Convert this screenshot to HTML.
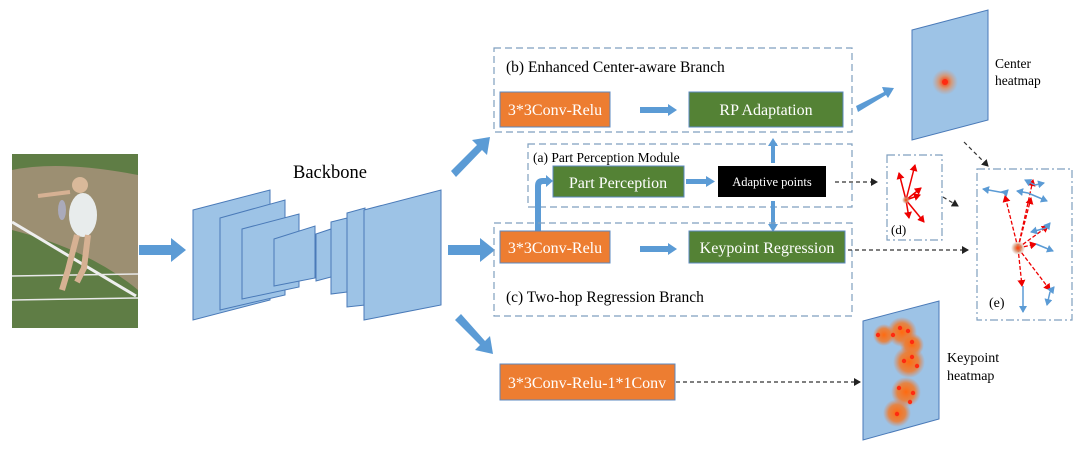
<!DOCTYPE html>
<html><head><meta charset="utf-8"><style>
html,body{margin:0;padding:0;background:#fff;}
svg{display:block;}
text{font-family:"Liberation Serif",serif;}
</style></head><body>
<svg width="1080" height="454" viewBox="0 0 1080 454" xmlns="http://www.w3.org/2000/svg">
<defs>
<marker id="bh" markerWidth="8" markerHeight="8" refX="6" refY="4" orient="auto" markerUnits="userSpaceOnUse"><path d="M0,0 L7,4 L0,8 z" fill="#222"/></marker>
<marker id="rh" markerWidth="8" markerHeight="8" refX="6" refY="4" orient="auto" markerUnits="userSpaceOnUse"><path d="M0,0 L7,4 L0,8 z" fill="#e00"/></marker>
<marker id="lh" markerWidth="8" markerHeight="8" refX="6" refY="4" orient="auto" markerUnits="userSpaceOnUse"><path d="M0,0 L7,4 L0,8 z" fill="#5b9bd5"/></marker>
<radialGradient id="glow"><stop offset="0" stop-color="#ff3a10"/><stop offset="0.2" stop-color="#f05a2a"/><stop offset="0.5" stop-color="#d9956f" stop-opacity="0.9"/><stop offset="1" stop-color="#c8a090" stop-opacity="0"/></radialGradient>
<radialGradient id="glow2"><stop offset="0" stop-color="#ff6a10"/><stop offset="0.6" stop-color="#f07a2a" stop-opacity="0.85"/><stop offset="1" stop-color="#e08050" stop-opacity="0"/></radialGradient>
</defs>

<!-- photo -->
<rect x="12" y="154" width="126" height="174" fill="#5f7d45"/>
<path d="M12,170 Q60,160 138,175 L138,290 Q90,250 12,230 Z" fill="#9c8f72"/>
<path d="M12,222 L136,296" stroke="#eee" stroke-width="3"/>
<path d="M12,276 L138,274 M12,300 L138,298" stroke="#e8e8e8" stroke-width="1.5"/>
<ellipse cx="83" cy="215" rx="14" ry="22" fill="#e8ecec"/>
<circle cx="80" cy="185" r="8" fill="#d9b99a"/>
<path d="M77,235 L68,270 L62,290 M88,235 L84,268 L77,282" stroke="#d6b193" stroke-width="6" fill="none"/>
<path d="M70,192 L38,196" stroke="#d6b193" stroke-width="4"/>
<ellipse cx="62" cy="210" rx="4" ry="10" fill="#aab" />

<!-- arrow photo->backbone -->
<path d="M139,245 L171,245 L171,238 L186,250 L171,262 L171,255 L139,255 Z" fill="#5b9bd5"/>

<!-- backbone -->
<g fill="#9dc3e6" stroke="#4a7ab8" stroke-width="1">
<polygon points="193,210 270,190 270,300 193,320"/>
<polygon points="220,218 285,200 285,295 220,310"/>
<polygon points="242,229 299,214 299,287 242,299"/>
<polygon points="274,239 315,226 315,278 274,286"/>
<polygon points="316,234 331,229 331,277 316,281"/>
<polygon points="331,222 347,218 347,292 331,294"/>
<polygon points="347,213 365,208 365,305 347,307"/>
<polygon points="364,210 441,190 441,305 364,320"/>
</g>
<text x="293" y="178" font-size="18.5">Backbone</text>

<!-- outputs of backbone -->
<g fill="#5b9bd5">
<path d="M451,171 L477,145 L472,140 L490,137 L487,155 L482,150 L456,177 Z"/>
<path d="M448,245 L480,245 L480,238 L495,250 L480,262 L480,255 L448,255 Z"/>
<path d="M455,320 L480,345 L475,350 L493,354 L490,336 L485,341 L461,314 Z"/>
</g>

<!-- (b) -->
<rect x="494" y="48" width="358" height="84" fill="none" stroke="#7f9fbf" stroke-width="1.2" stroke-dasharray="7,4"/>
<text x="506" y="72" font-size="15.5">(b) Enhanced Center-aware Branch</text>
<rect x="500" y="92" width="110" height="35" fill="#ed7d31" stroke="#5b88c0"/>
<text x="555" y="115" font-size="16" fill="#fff" text-anchor="middle">3*3Conv-Relu</text>
<rect x="689" y="92" width="154" height="35" fill="#548235" stroke="#5b88c0"/>
<text x="766" y="115" font-size="16" fill="#fff" text-anchor="middle">RP Adaptation</text>
<path d="M640,107 L668,107 L668,104 L677,110 L668,116 L668,113 L640,113 Z" fill="#5b9bd5"/>

<!-- (a) -->
<rect x="528" y="144" width="324" height="63" fill="none" stroke="#7f9fbf" stroke-width="1.2" stroke-dasharray="7,4"/>
<text x="533" y="162" font-size="13.5">(a) Part Perception Module</text>
<rect x="553" y="166" width="131" height="31" fill="#548235" stroke="#5b88c0"/>
<text x="618" y="188" font-size="16" fill="#fff" text-anchor="middle">Part Perception</text>
<rect x="718" y="166" width="108" height="31" fill="#000"/>
<text x="772" y="186" font-size="12.5" fill="#fff" text-anchor="middle">Adaptive points</text>
<path d="M686,179 L706,179 L706,176 L715,181.5 L706,187 L706,184 L686,184 Z" fill="#5b9bd5"/>
<path d="M771,163 L771,146 L768,146 L773,138 L778,146 L775,146 L775,163 Z" fill="#5b9bd5"/>
<path d="M771,201 L771,224 L768,224 L773,232 L778,224 L775,224 L775,201 Z" fill="#5b9bd5"/>
<path d="M535,231 L535,186 Q535,178 543,178 L546,178 L546,175 L553,181 L546,187 L546,184 L543,184 Q541,184 541,186 L541,231 Z" fill="#5b9bd5"/>

<!-- (c) -->
<rect x="494" y="223" width="358" height="93" fill="none" stroke="#7f9fbf" stroke-width="1.2" stroke-dasharray="7,4"/>
<rect x="500" y="231" width="110" height="32" fill="#ed7d31" stroke="#5b88c0"/>
<text x="555" y="253" font-size="16" fill="#fff" text-anchor="middle">3*3Conv-Relu</text>
<rect x="689" y="231" width="156" height="32" fill="#548235" stroke="#5b88c0"/>
<text x="767" y="253" font-size="16" fill="#fff" text-anchor="middle">Keypoint Regression</text>
<path d="M640,246 L668,246 L668,243 L677,249 L668,255 L668,252 L640,252 Z" fill="#5b9bd5"/>
<text x="506" y="302" font-size="15.5">(c) Two-hop Regression Branch</text>

<!-- bottom branch -->
<rect x="500" y="364" width="175" height="36" fill="#ed7d31" stroke="#5b88c0"/>
<text x="587" y="388" font-size="16" fill="#fff" text-anchor="middle">3*3Conv-Relu-1*1Conv</text>
<line x1="676" y1="382" x2="860" y2="382" stroke="#333" stroke-width="1.2" stroke-dasharray="4,3" marker-end="url(#bh)"/>

<!-- center heatmap -->
<path d="M856,106 L884,92 L882,87 L894,88 L888,98 L886,95 L858,112 Z" fill="#5b9bd5"/>
<polygon points="912,30 988,10 988,120 912,140" fill="#9dc3e6" stroke="#4a7ab8"/>
<circle cx="945" cy="82" r="13" fill="url(#glow)"/>
<circle cx="945" cy="82" r="3" fill="#ff2a10"/>
<text x="995" y="68" font-size="13.5">Center</text>
<text x="995" y="85" font-size="13.5">heatmap</text>

<!-- keypoint heatmap -->
<polygon points="863,321 939,301 939,419 863,440" fill="#9dc3e6" stroke="#4a7ab8"/>
<g>
<circle cx="902" cy="332" r="15" fill="url(#glow2)"/>
<circle cx="884" cy="335" r="11" fill="url(#glow2)"/>
<circle cx="912" cy="345" r="12" fill="url(#glow2)"/>
<circle cx="909" cy="362" r="16" fill="url(#glow2)"/>
<circle cx="906" cy="392" r="15" fill="url(#glow2)"/>
<circle cx="897" cy="413" r="14" fill="url(#glow2)"/>
</g>
<g fill="#ff2a10">
<circle cx="878" cy="335" r="2.2"/><circle cx="893" cy="335" r="2.2"/><circle cx="900" cy="328" r="2.2"/><circle cx="908" cy="331" r="2.2"/><circle cx="912" cy="342" r="2.2"/>
<circle cx="904" cy="361" r="2.2"/><circle cx="912" cy="357" r="2.2"/><circle cx="917" cy="366" r="2.2"/>
<circle cx="899" cy="388" r="2.2"/><circle cx="913" cy="393" r="2.2"/><circle cx="910" cy="402" r="2.2"/><circle cx="897" cy="414" r="2.2"/>
</g>
<text x="947" y="362" font-size="14">Keypoint</text>
<text x="947" y="380" font-size="14">heatmap</text>

<!-- (d) -->
<line x1="835" y1="182" x2="877" y2="182" stroke="#333" stroke-width="1.2" stroke-dasharray="4,3" marker-end="url(#bh)"/>
<rect x="887" y="155" width="55" height="85" fill="none" stroke="#7f9fbf" stroke-width="1.2" stroke-dasharray="8,3,2,3"/>
<g stroke="#e00" stroke-width="1.5" marker-end="url(#rh)">
<line x1="906" y1="200" x2="899" y2="173"/>
<line x1="906" y1="200" x2="915" y2="165"/>
<line x1="906" y1="200" x2="921" y2="188"/>
<line x1="906" y1="200" x2="920" y2="195"/>
<line x1="906" y1="200" x2="909" y2="218"/>
<line x1="906" y1="200" x2="924" y2="222"/>
</g>
<circle cx="906" cy="200" r="4" fill="url(#glow)"/>
<text x="891" y="234" font-size="13">(d)</text>
<line x1="943" y1="197" x2="958" y2="206" stroke="#333" stroke-width="1.2" stroke-dasharray="4,3" marker-end="url(#bh)"/>
<line x1="964" y1="142" x2="988" y2="166" stroke="#333" stroke-width="1.2" stroke-dasharray="4,3" marker-end="url(#bh)"/>
<line x1="848" y1="250" x2="968" y2="250" stroke="#333" stroke-width="1.2" stroke-dasharray="4,3" marker-end="url(#bh)"/>

<!-- (e) -->
<rect x="977" y="169" width="95" height="151" fill="none" stroke="#7f9fbf" stroke-width="1.2" stroke-dasharray="8,3,2,3"/>
<g stroke="#e00" stroke-width="1.3" stroke-dasharray="4,2" marker-end="url(#rh)">
<line x1="1018" y1="248" x2="1005" y2="196"/>
<line x1="1018" y1="248" x2="1033" y2="180"/>
<line x1="1018" y1="248" x2="1031" y2="198"/>
<line x1="1018" y1="248" x2="1048" y2="226"/>
<line x1="1018" y1="248" x2="1036" y2="244"/>
<line x1="1018" y1="248" x2="1022" y2="286"/>
<line x1="1018" y1="248" x2="1050" y2="290"/>
</g>
<circle cx="1018" cy="248" r="7" fill="url(#glow)"/>
<g stroke="#5b9bd5" stroke-width="1.5" marker-end="url(#lh)">
<line x1="1005" y1="193" x2="983" y2="189"/>
<line x1="1005" y1="193" x2="1008" y2="190"/>
<line x1="1035" y1="185" x2="1025" y2="180"/>
<line x1="1035" y1="185" x2="1044" y2="183"/>
<line x1="1028" y1="193" x2="1017" y2="191"/>
<line x1="1028" y1="193" x2="1047" y2="201"/>
<line x1="1046" y1="228" x2="1031" y2="232"/>
<line x1="1046" y1="228" x2="1050" y2="223"/>
<line x1="1036" y1="244" x2="1053" y2="251"/>
<line x1="1023" y1="286" x2="1023" y2="312"/>
<line x1="1050" y1="292" x2="1047" y2="305"/>
<line x1="1050" y1="292" x2="1054" y2="287"/>
</g>
<text x="989" y="307" font-size="14">(e)</text>
</svg>
</body></html>
